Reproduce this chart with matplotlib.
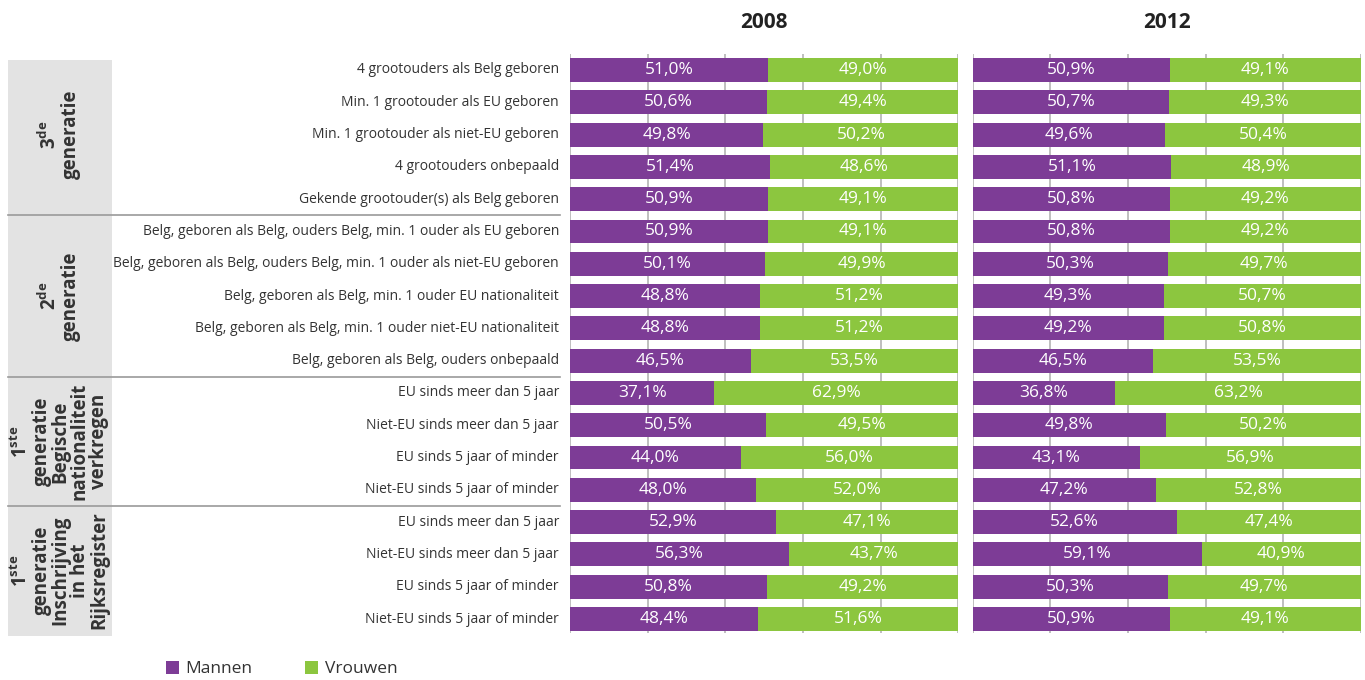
import matplotlib
matplotlib.use("Agg")
import matplotlib.pyplot as plt
from matplotlib.patches import Rectangle, Patch
from matplotlib.lines import Line2D

plt.rcParams['font.family'] = ['Open Sans', 'DejaVu Sans']
plt.rcParams['mathtext.fontset'] = 'custom'
plt.rcParams['mathtext.rm'] = 'Open Sans'
plt.rcParams['mathtext.bf'] = 'Open Sans:bold'

categories = [
    "4 grootouders als Belg geboren",
    "Min. 1 grootouder als EU geboren",
    "Min. 1 grootouder als niet-EU geboren",
    "4 grootouders onbepaald",
    "Gekende grootouder(s) als Belg geboren",
    "Belg, geboren als Belg, ouders Belg, min. 1 ouder als EU geboren",
    "Belg, geboren als Belg, ouders Belg, min. 1 ouder als niet-EU geboren",
    "Belg, geboren als Belg, min. 1 ouder EU nationaliteit",
    "Belg, geboren als Belg, min. 1 ouder niet-EU nationaliteit",
    "Belg, geboren als Belg, ouders onbepaald",
    "EU sinds meer dan 5 jaar",
    "Niet-EU sinds meer dan 5 jaar",
    "EU sinds 5 jaar of minder",
    "Niet-EU sinds 5 jaar of minder",
    "EU sinds meer dan 5 jaar",
    "Niet-EU sinds meer dan 5 jaar",
    "EU sinds 5 jaar of minder",
    "Niet-EU sinds 5 jaar of minder",
]

mannen_2008 = [51.0, 50.6, 49.8, 51.4, 50.9, 50.9, 50.1, 48.8, 48.8, 46.5,
               37.1, 50.5, 44.0, 48.0, 52.9, 56.3, 50.8, 48.4]
vrouwen_2008 = [49.0, 49.4, 50.2, 48.6, 49.1, 49.1, 49.9, 51.2, 51.2, 53.5,
                62.9, 49.5, 56.0, 52.0, 47.1, 43.7, 49.2, 51.6]
mannen_2012 = [50.9, 50.7, 49.6, 51.1, 50.8, 50.8, 50.3, 49.3, 49.2, 46.5,
               36.8, 49.8, 43.1, 47.2, 52.6, 59.1, 50.3, 50.9]
vrouwen_2012 = [49.1, 49.3, 50.4, 48.9, 49.2, 49.2, 49.7, 50.7, 50.8, 53.5,
                63.2, 50.2, 56.9, 52.8, 47.4, 40.9, 49.7, 49.1]

years = ["2008", "2012"]
series_labels = ["Mannen", "Vrouwen"]

groups = [
    (r"$\mathbf{3^{de}}$" + "\ngeneratie", 0, 4),
    (r"$\mathbf{2^{de}}$" + "\ngeneratie", 5, 9),
    (r"$\mathbf{1^{ste}}$" + "\ngeneratie\nBegische\nnationaliteit\nverkregen", 10, 13),
    (r"$\mathbf{1^{ste}}$" + "\ngeneratie\nInschrijving\nin het\nRijksregister", 14, 17),
]

PURPLE = "#7d3c96"
GREEN = "#8cc63f"
GRID = "#b4b4b4"

W, H = 1365, 680
fig = plt.figure(figsize=(W / 100, H / 100), dpi=100)

top_px, bot_px = 54, 633
ax_b = (H - bot_px) / H
ax_h = (bot_px - top_px) / H
n = len(categories)
row_px = 32.3
ylim = (n - 1 + (bot_px - 619) / row_px, -(70 - top_px) / row_px)

panels = [(570, 958.5), (972.7, 1360.7)]
data = [(mannen_2008, vrouwen_2008), (mannen_2012, vrouwen_2012)]
ys = list(range(n))

for (x0, x1), (m, v), yr in zip(panels, data, years):
    ax = fig.add_axes([x0 / W, ax_b, (x1 - x0) / W, ax_h])
    ax.set_xlim(0, 100)
    ax.set_ylim(*ylim)
    for g in range(0, 101, 20):
        ax.axvline(g, color=GRID, lw=1.2, zorder=0)
    ax.barh(ys, m, height=0.74, color=PURPLE, zorder=2)
    ax.barh(ys, v, left=m, height=0.74, color=GREEN, zorder=2)
    for y, a, b in zip(ys, m, v):
        ax.text(a / 2, y, f"{a:.1f}%".replace(".", ","), ha="center", va="center",
                color="white", fontsize=12.5, zorder=3)
        ax.text(a + b / 2, y, f"{b:.1f}%".replace(".", ","), ha="center", va="center",
                color="white", fontsize=12.5, zorder=3)
    ax.axis("off")
    fig.text((x0 + x1) / 2 / W, 1 - 22 / H, yr, ha="center", va="center",
             fontsize=15, fontweight="bold", color="#222222")

# left label area sharing row coordinates
axl = fig.add_axes([0, ax_b, 570 / W, ax_h])
axl.set_xlim(0, 570)
axl.set_ylim(*ylim)
axl.axis("off")

box_top = ylim[1] + 6 / row_px
box_bot = ylim[0] + 3 / row_px
axl.add_patch(Rectangle((8, box_top), 104, box_bot - box_top, facecolor="#e3e3e3",
                        edgecolor="none", clip_on=False, zorder=0))
for s in (4.5, 9.5, 13.5):
    axl.add_line(Line2D([8, 560], [s, s], color="#9a9a9a", lw=1.2, clip_on=False, zorder=1))

for y, c in zip(ys, categories):
    axl.text(559, y, c, ha="right", va="center", fontsize=10, color="#333333")

for label, r0, r1 in groups:
    axl.text(60, (r0 + r1) / 2, label, rotation=90, ha="center", va="center",
             multialignment="center", fontsize=13.5, fontweight="bold",
             color="#333333", linespacing=0.95)

handles = [Patch(facecolor=PURPLE, edgecolor="none"), Patch(facecolor=GREEN, edgecolor="none")]
fig.legend(handles, series_labels, loc="center left", bbox_to_anchor=(150 / W, 1 - 669 / H),
           ncol=2, frameon=False, fontsize=12.5, handlelength=0.75, handleheight=0.75,
           handletextpad=0.4, columnspacing=3.0, labelcolor="#333333")

fig.savefig("out.png", dpi=100)
